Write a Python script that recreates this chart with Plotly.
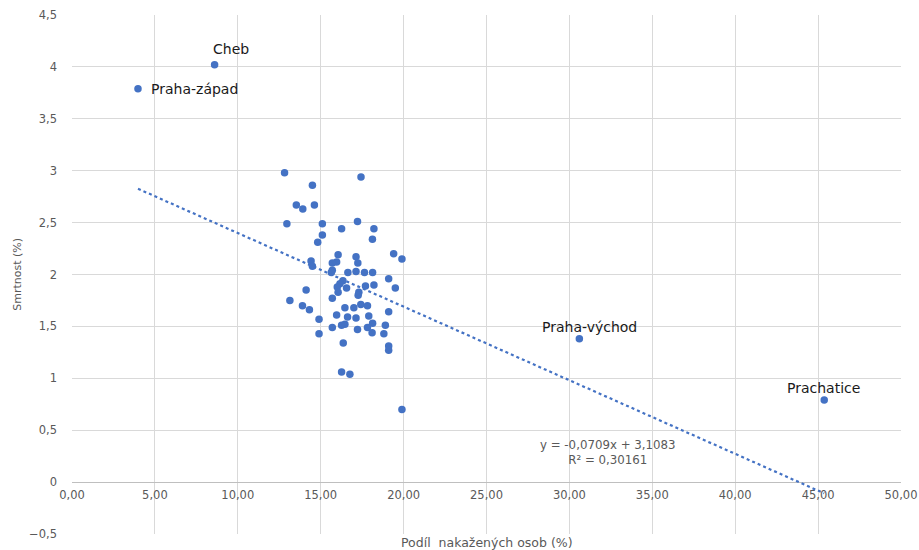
import plotly.graph_objects as go
import numpy as np

# Cluster points (unlabelled districts)
podil = [12.82, 17.43, 14.50, 13.53, 13.92, 14.62, 12.96, 15.10, 17.22, 16.26,
         18.21, 15.10, 18.12, 14.82, 19.40, 19.90, 16.05, 17.13, 17.24, 14.42,
         14.50, 15.96, 15.70, 15.70, 15.64, 16.64, 17.13, 17.64, 18.13, 19.10,
         16.34, 16.16, 16.56, 17.70, 18.21, 19.50, 14.12, 16.00, 16.05, 17.30,
         17.26, 13.14, 15.70, 13.90, 14.32, 17.42, 17.82, 16.46, 17.00, 19.10,
         15.96, 16.62, 17.13, 17.90, 14.90, 18.13, 15.70, 16.26, 16.46, 17.82,
         18.90, 17.22, 18.10, 18.81, 14.90, 16.36, 19.10, 19.10, 16.26, 16.76,
         19.90]
smrtnost = [2.98, 2.94, 2.86, 2.67, 2.63, 2.67, 2.49, 2.49, 2.51, 2.44,
            2.44, 2.38, 2.34, 2.31, 2.20, 2.15, 2.19, 2.17, 2.11, 2.13,
            2.08, 2.12, 2.11, 2.04, 2.02, 2.02, 2.03, 2.02, 2.02, 1.96,
            1.94, 1.91, 1.87, 1.89, 1.90, 1.87, 1.85, 1.88, 1.83, 1.83,
            1.80, 1.75, 1.77, 1.70, 1.66, 1.71, 1.70, 1.68, 1.68, 1.64,
            1.61, 1.59, 1.58, 1.60, 1.57, 1.53, 1.49, 1.51, 1.52, 1.49,
            1.51, 1.47, 1.44, 1.43, 1.43, 1.34, 1.31, 1.27, 1.06, 1.04,
            0.70]

# Labelled districts
named = ["Cheb", "Praha-západ", "Praha-východ", "Prachatice"]
named_podil = [8.60, 3.98, 30.60, 45.37]
named_smrtnost = [4.02, 3.79, 1.38, 0.79]

# Label placement styles (anchor, x-shift px, y-shift px)
label_style = [("center", 16, 16), ("left", 11, 0), ("center", 10, 12), ("center", -1, 12)]

# Linear trendline (as reported in the chart)
slope = -0.0709
intercept = 3.1083
r2 = 0.30161

blue = "#4472C4"
grey_text = "#595959"
FONT = "DejaVu Sans, Verdana, sans-serif"

all_x = np.array(podil + named_podil)
tx = np.array([all_x.min(), all_x.max()])
ty = slope * tx + intercept

fig = go.Figure()
fig.add_trace(go.Scatter(x=tx, y=ty, mode="lines",
                         line=dict(color=blue, width=2.2, dash="dot"),
                         hoverinfo="skip", showlegend=False))
fig.add_trace(go.Scatter(x=podil, y=smrtnost, mode="markers",
                         marker=dict(color=blue, size=7.5),
                         showlegend=False))
fig.add_trace(go.Scatter(x=named_podil, y=named_smrtnost, mode="markers",
                         marker=dict(color=blue, size=7.5),
                         showlegend=False))

for name, px, py, (anc, dx, dy) in zip(named, named_podil, named_smrtnost, label_style):
    fig.add_annotation(x=px, y=py, xref="x", yref="y", text=name, showarrow=False,
                       xanchor=anc, yanchor="middle", xshift=dx, yshift=dy,
                       font=dict(family=FONT, size=14, color="#1a1a1a"))

eq = f"y = {slope:.4f}x + {intercept:.4f}".replace(".", ",") + f"<br>R² = {r2:.5f}".replace(".", ",")
fig.add_annotation(x=32.3, y=0.29, xref="x", yref="y", text=eq,
                   showarrow=False, align="center",
                   font=dict(family=FONT, size=11.8, color=grey_text))

fig.add_annotation(x=0.5, y=-0.0155, xref="paper", yref="paper",
                   text="Podíl  nakažených osob (%)", showarrow=False,
                   xanchor="center", yanchor="middle", borderpad=0,
                   font=dict(family=FONT, size=12.5, color=grey_text))
fig.add_annotation(x=-0.066, y=0.5, xref="paper", yref="paper",
                   text="Smrtnost (%)", showarrow=False, textangle=-90,
                   xanchor="center", yanchor="middle",
                   font=dict(family=FONT, size=11, color=grey_text))

fig.update_layout(
    width=919, height=550,
    margin=dict(l=72, r=18, t=15, b=16, autoexpand=False),
    plot_bgcolor="white", paper_bgcolor="white",
    separators=", ",
    font=dict(family=FONT, size=11.5, color=grey_text),
    xaxis=dict(range=[0, 50], dtick=5, tick0=0, tickformat=".2f",
               showgrid=True, gridcolor="#D9D9D9", gridwidth=1,
               zeroline=False, showline=False, automargin=False,
               anchor="free", position=0.1, ticks="",
               ticklabelstandoff=4, ticklabeloverflow="allow"),
    yaxis=dict(range=[-0.5, 4.5], dtick=0.5, tick0=0,
               showgrid=True, gridcolor="#D9D9D9", gridwidth=1,
               zeroline=True, zerolinecolor="#BFBFBF", zerolinewidth=1,
               showline=False, automargin=False, ticks="", ticklabelstandoff=14,
               ticklabeloverflow="allow"),
)

fig.write_html("out.html", config={"displayModeBar": False},
               post_script="document.body.style.margin='0';document.body.style.overflow='hidden';")
